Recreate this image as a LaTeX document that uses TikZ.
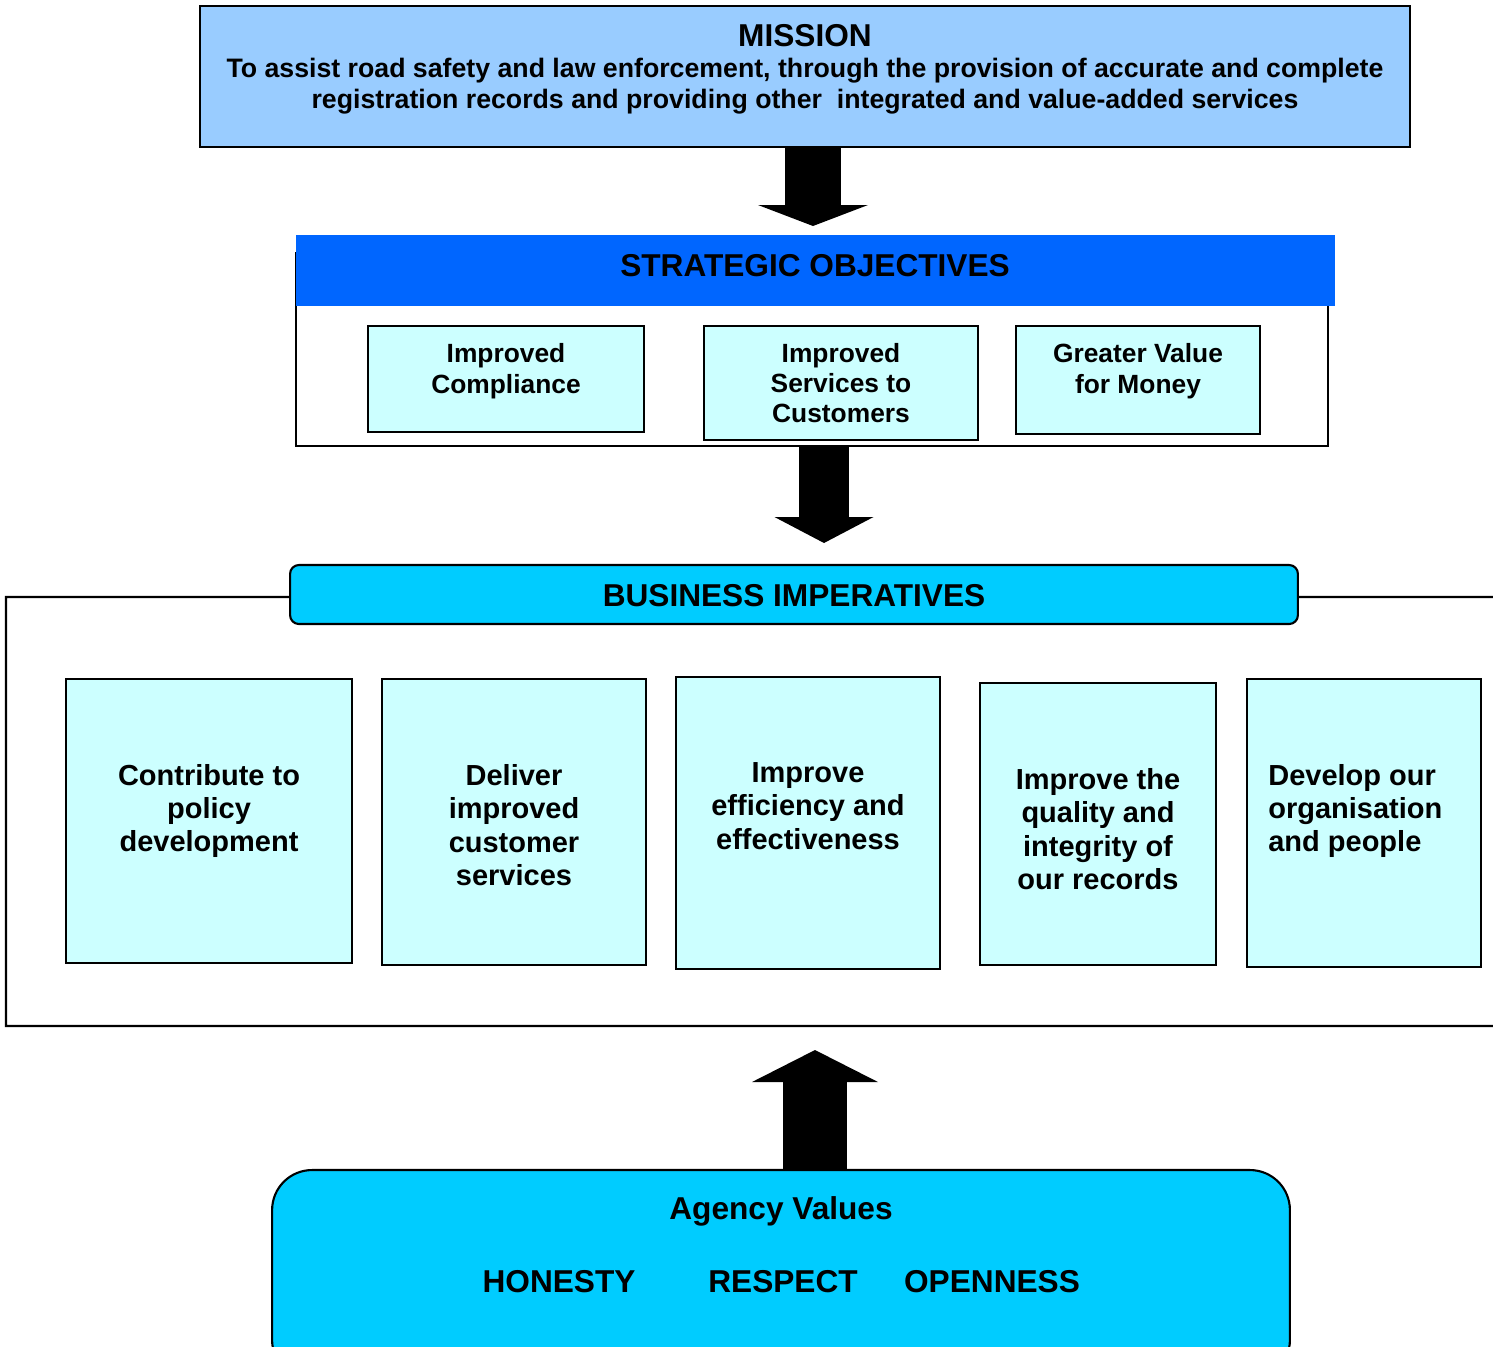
\documentclass[tikz,border=0pt]{standalone}
\usepackage{fontspec}
\setmainfont{Liberation Sans}
\usepackage{tikz}
\usetikzlibrary{arrows.meta, positioning, calc}

\definecolor{missionblue}{HTML}{99CCFF}
\definecolor{headblue}{HTML}{0066FF}
\definecolor{paleblue}{HTML}{CCFFFF}
\definecolor{skyblue}{HTML}{00CCFF}

\tikzset{
  box/.style={draw, line width=1.2pt, inner sep=0pt, outer sep=0pt},
  txt/.style={inner sep=0pt, align=center, font=\bfseries},
  bigarrow/.style={line width=#1},
  frame/.style={line width=1.2pt}
}

\begin{document}
\begin{tikzpicture}[x=0.02cm, y=-0.02cm]
\useasboundingbox (0,0) rectangle (1493,1346);
\clip (0,0) rectangle (1493,1346);

% mission
\node (mission) at (805, 76.5) [box, fill=missionblue, minimum width=24.2cm, minimum height=2.82cm] {};
\node (mtitle) at (805, 36) [txt, font=\bfseries\fontsize{18}{21}\selectfont] {MISSION};
\node (mtext) at (805, 86.5) [txt, font=\bfseries\fontsize{15.2}{17.6}\selectfont] {To assist road safety and law enforcement, through the provision of accurate and complete\\ registration records and providing other\ \ integrated and value-added services};

% strategic objectives
\node (so) at (812, 349.5) [box, minimum width=20.64cm, minimum height=3.86cm] {};
\node (sohead) at (815.5, 270.5) [fill=headblue, inner sep=0pt, minimum width=20.78cm, minimum height=1.42cm] {};
\node (sotitle) at (815, 266) [txt, font=\bfseries\fontsize{18}{21}\selectfont] {STRATEGIC OBJECTIVES};

\node (so1) at (506, 379) [box, fill=paleblue, minimum width=5.52cm, minimum height=2.12cm] {};
\node (so2) at (841, 383) [box, fill=paleblue, minimum width=5.48cm, minimum height=2.28cm] {};
\node (so3) at (1138, 380) [box, fill=paleblue, minimum width=4.88cm, minimum height=2.16cm] {};
\node (so1t) at (506, 371) [txt, font=\bfseries\fontsize{15}{17.6}\selectfont] {Improved\\ Compliance};
\node (so2t) at (841, 383) [txt, font=\bfseries\fontsize{15}{17.3}\selectfont] {Improved\\ Services to\\ Customers};
\node (so3t) at (1138, 371) [txt, font=\bfseries\fontsize{15}{17.6}\selectfont] {Greater Value\\ for Money};

% business imperatives
\node (bi) at (794, 594.5) [box, fill=skyblue, rounded corners=5pt, minimum width=20.16cm, minimum height=1.18cm] {};
\node (bititle) at (794, 596) [txt, font=\bfseries\fontsize{18}{21}\selectfont] {BUSINESS IMPERATIVES};
\draw[frame] (bi.west) ++(0, 2.5) -- (6, 597) |- (1493, 1026);
\draw[frame] (bi.east) ++(0, 2.5) -- (1493, 597);

\node (imp1) at (209, 821) [box, fill=paleblue, minimum width=5.72cm, minimum height=5.68cm] {};
\node (imp2) at (514, 822) [box, fill=paleblue, minimum width=5.28cm, minimum height=5.72cm] {};
\node (imp3) at (808, 823) [box, fill=paleblue, minimum width=5.28cm, minimum height=5.84cm] {};
\node (imp4) at (1098, 824) [box, fill=paleblue, minimum width=4.72cm, minimum height=5.64cm] {};
\node (imp5) at (1364, 823) [box, fill=paleblue, minimum width=4.68cm, minimum height=5.76cm] {};
\node (imp1t) at (209, 811) [txt, font=\bfseries\fontsize{16.5}{19}\selectfont] {Contribute to\\ policy\\ development};
\node (imp2t) at (514, 825) [txt, font=\bfseries\fontsize{16.5}{19}\selectfont] {Deliver\\ improved\\ customer\\ services};
\node (imp3t) at (808, 806) [txt, font=\bfseries\fontsize{16.5}{19}\selectfont] {Improve\\ efficiency and\\ effectiveness};
\node (imp4t) at (1098, 829) [txt, font=\bfseries\fontsize{16.5}{19}\selectfont] {Improve the\\ quality and\\ integrity of\\ our records};
\node (imp5t) at (1268, 811) [txt, align=left, anchor=west, font=\bfseries\fontsize{16.5}{19}\selectfont] {Develop our\\ organisation\\ and people};

% agency values
\node (values) at (781, 1275) [box, fill=skyblue, rounded corners=0.8cm, minimum width=20.36cm, minimum height=4.2cm] {};
\node (vtitle) at (781, 1211) [txt, font=\bfseries\fontsize{18}{21}\selectfont] {Agency Values};
\node (honesty) at (559, 1282) [txt, font=\bfseries\fontsize{18}{21}\selectfont] {HONESTY};
\node (respect) at (783, 1282) [txt, font=\bfseries\fontsize{18}{21}\selectfont] {RESPECT};
\node (openness) at (992, 1282) [txt, font=\bfseries\fontsize{18}{21}\selectfont] {OPENNESS};

% block arrows
\coordinate (tip1) at (813, 226);
\coordinate (tip2) at (824, 543);
\coordinate (tip3) at (815, 1050);
\draw[bigarrow=1.12cm, -{Triangle[length=0.42cm, width=2.2cm, line width=0pt]}] (mission.south -| tip1) -- (tip1);
\draw[bigarrow=1.0cm, -{Triangle[length=0.52cm, width=1.98cm, line width=0pt]}] (so.south -| tip2) -- (tip2);
\draw[bigarrow=1.28cm, -{Triangle[length=0.64cm, width=2.52cm, line width=0pt]}] (values.north -| tip3) -- (tip3);
\end{tikzpicture}
\end{document}
